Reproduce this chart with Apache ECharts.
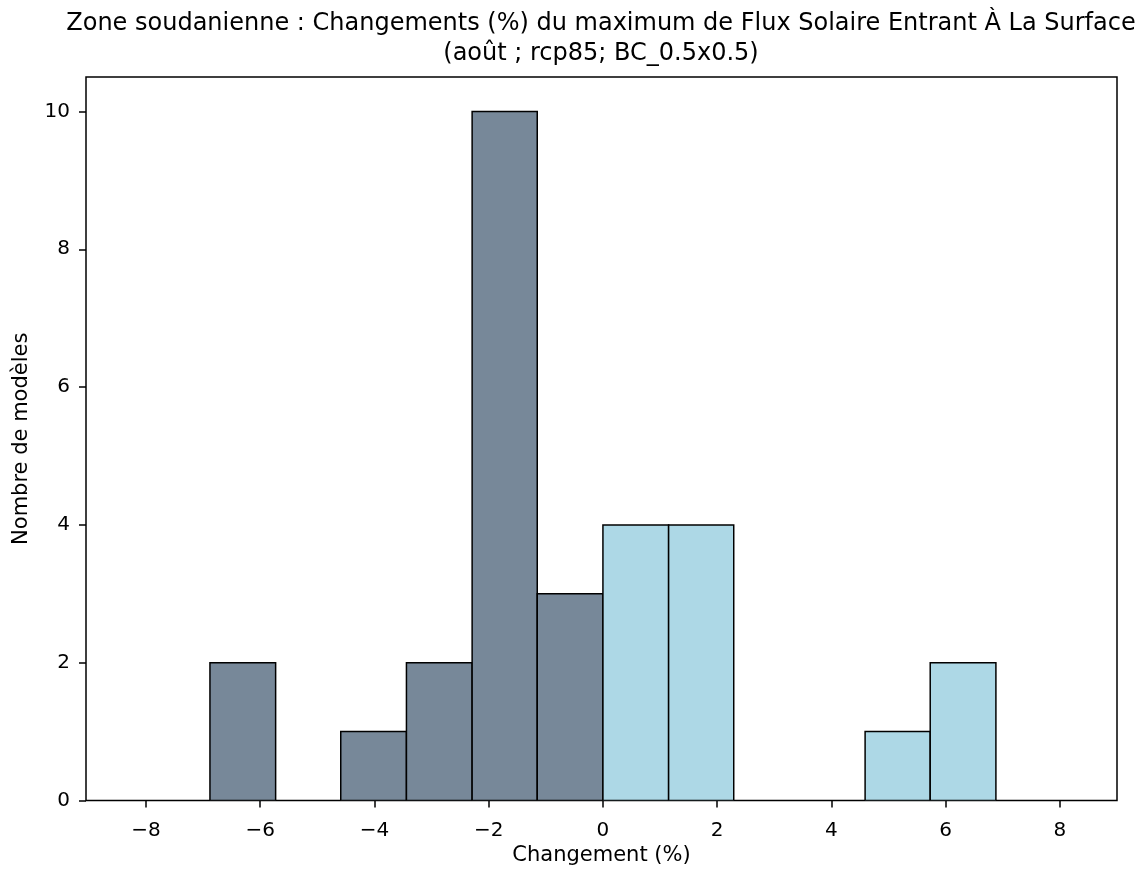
<!DOCTYPE html>
<html>
<head>
<meta charset="utf-8">
<script src="https://cdn.jsdelivr.net/npm/echarts@6/dist/echarts.min.js"></script>
<style>
  html, body { margin: 0; padding: 0; background: #fff; }
  #main { width: 1141px; height: 869px; }
</style>
</head>
<body>
<div id="main"></div>
<script>
// bords des classes de l'histogramme (%)
var binEdges = [-6.88, -5.73, -4.59, -3.44, -2.29, -1.15, 0, 1.15, 2.29, 3.44, 4.59, 5.73, 6.88];
// nombre de modeles par classe
var counts = [2, 0, 1, 2, 10, 3, 4, 4, 0, 0, 1, 2];
var xTicks = [-8, -6, -4, -2, 0, 2, 4, 6, 8];
var yTicks = [0, 2, 4, 6, 8, 10];

var titleText = 'Zone soudanienne : Changements (%) du maximum de Flux Solaire Entrant À La Surface\n(août ; rcp85; BC_0.5x0.5)';

var FONT = 'DejaVu Sans';

var bins = [];
for (var i = 0; i < counts.length; i++) {
  bins.push([binEdges[i], binEdges[i + 1], counts[i]]);
}

var chart = echarts.init(document.getElementById('main'));

chart.setOption({
  animation: false,
  backgroundColor: '#fff',
  title: {
    text: titleText,
    left: 601,
    top: 9,
    padding: 0,
    textAlign: 'center',
    textStyle: {
      fontFamily: FONT,
      fontSize: 24,
      fontWeight: 'normal',
      color: '#000',
      lineHeight: 30
    }
  },
  grid: {
    left: 86,
    right: 24,
    top: 77,
    bottom: 68.5,
    outerBoundsMode: 'none',
    containLabel: false,
    show: true,
    borderColor: '#000',
    borderWidth: 1.5,
    backgroundColor: 'transparent'
  },
  xAxis: {
    type: 'value',
    min: -9.05,
    max: 9.0,
    name: 'Changement (%)',
    nameLocation: 'middle',
    nameGap: 45,
    nameTextStyle: { fontFamily: FONT, fontSize: 21, color: '#000' },
    axisLine: { show: false, onZero: false },
    splitLine: { show: false },
    axisTick: {
      show: true,
      length: 7,
      customValues: xTicks,
      lineStyle: { color: '#000', width: 1.5 }
    },
    axisLabel: {
      customValues: xTicks,
      margin: 20,
      fontFamily: FONT,
      fontSize: 20,
      color: '#000',
      formatter: function (v) { return v < 0 ? '\u2212' + Math.abs(v) : String(v); }
    }
  },
  yAxis: {
    type: 'value',
    min: 0,
    max: 10.5,
    name: 'Nombre de modèles',
    nameLocation: 'middle',
    nameGap: 54,
    nameTextStyle: { fontFamily: FONT, fontSize: 21, color: '#000' },
    axisLine: { show: false, onZero: false },
    splitLine: { show: false },
    axisTick: {
      show: true,
      length: 7,
      customValues: yTicks,
      lineStyle: { color: '#000', width: 1.5 }
    },
    axisLabel: {
      customValues: yTicks,
      margin: 16,
      fontFamily: FONT,
      fontSize: 20,
      color: '#000'
    }
  },
  series: [{
    type: 'custom',
    data: bins,
    encode: { x: [0, 1], y: 2 },
    clip: true,
    renderItem: function (params, api) {
      var x0 = api.value(0), x1 = api.value(1), c = api.value(2);
      if (c <= 0) return null;
      var p0 = api.coord([x0, c]);
      var p1 = api.coord([x1, 0]);
      return {
        type: 'rect',
        shape: { x: p0[0], y: p0[1], width: p1[0] - p0[0], height: p1[1] - p0[1] },
        style: {
          fill: x0 < 0 ? '#778899' : '#add8e6',
          stroke: '#000',
          lineWidth: 1.5
        }
      };
    }
  }]
});
</script>
</body>
</html>
